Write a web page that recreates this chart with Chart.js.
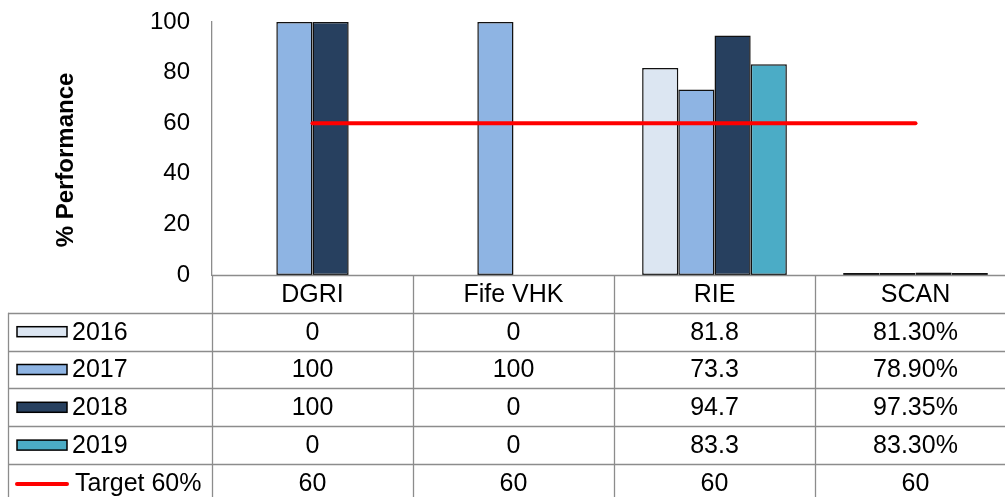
<!DOCTYPE html>
<html>
<head>
<meta charset="utf-8">
<script src="https://cdn.jsdelivr.net/npm/chart.js@4"></script>
<style>
  html, body { margin: 0; padding: 0; background: #fff; overflow: hidden; }
  #wrap { width: 1016px; height: 497px; }
</style>
</head>
<body>
<div id="wrap"><canvas id="perfChart" width="1016" height="497"></canvas></div>
<script>
// Data
const categories = ['DGRI', 'Fife VHK', 'RIE', 'SCAN'];
const years = ['2016', '2017', '2018', '2019'];
// SCAN is stored as fractions in the source sheet (shown as %)
const values2016 = [0, 0, 81.8, 0.813];
const values2017 = [100, 100, 73.3, 0.789];
const values2018 = [100, 0, 94.7, 0.9735];
const values2019 = [0, 0, 83.3, 0.833];
const targetValues = [60, 60, 60, 60];
const targetLabel = 'Target 60%';
const yTicks = [0, 20, 40, 60, 80, 100];

const yearColors = ['#dce6f2', '#8eb4e3', '#27405f', '#4bacc6'];
const TARGET_COLOR = '#ff0000';
const GRID_COLOR = '#8c8c8c';
const FONT = "'Liberation Sans', Arial, sans-serif";

const PLOT_TOP = 22;
const TABLE_TOP = 275;
const ROW_H = 37.8;

function fmt(v, catIdx) {
    if (categories[catIdx] === 'SCAN' && v < 1.5) return (v * 100).toFixed(2) + '%';
    return String(v);
}

// draws the axis title + data table under the plot
const tablePlugin = {
    id: 'dataTable',
    afterDraw(chart) {
        const ctx = chart.ctx;
        const xs = chart.scales.x;
        const area = chart.chartArea;
        const catW = (area.right - area.left) / categories.length;
        const rows = chart.data.datasets;
        const tableLeft = 8;
        const bottom = chart.height;

        ctx.save();
        ctx.strokeStyle = GRID_COLOR;
        ctx.lineWidth = 1.3;

        // baseline
        ctx.beginPath();
        ctx.moveTo(area.left, TABLE_TOP + 0.5);
        ctx.lineTo(chart.width, TABLE_TOP + 0.5);
        ctx.stroke();

        // column lines
        for (let i = 0; i <= categories.length; i++) {
            const x = Math.round(area.left + i * catW) + 0.5;
            ctx.beginPath();
            ctx.moveTo(x, TABLE_TOP);
            ctx.lineTo(x, bottom);
            ctx.stroke();
        }
        // row lines
        for (let r = 1; r <= rows.length; r++) {
            const y = Math.round(TABLE_TOP + r * ROW_H) + 0.5;
            ctx.beginPath();
            ctx.moveTo(tableLeft, y);
            ctx.lineTo(chart.width, y);
            ctx.stroke();
        }
        // legend column left edge
        ctx.beginPath();
        ctx.moveTo(tableLeft + 0.5, TABLE_TOP + ROW_H);
        ctx.lineTo(tableLeft + 0.5, bottom);
        ctx.stroke();

        ctx.fillStyle = '#000';
        ctx.font = '25px ' + FONT;
        ctx.textBaseline = 'middle';
        ctx.textAlign = 'center';

        // header
        categories.forEach((c, i) => {
            ctx.fillText(c, xs.getPixelForValue(i), TABLE_TOP + ROW_H / 2 + 1);
        });

        // rows
        rows.forEach((ds, r) => {
            const cy = TABLE_TOP + (r + 1.5) * ROW_H + 1;
            // legend key
            if (ds.type === 'line') {
                ctx.strokeStyle = TARGET_COLOR;
                ctx.lineWidth = 4;
                ctx.lineCap = 'round';
                ctx.beginPath();
                ctx.moveTo(17, cy);
                ctx.lineTo(67, cy);
                ctx.stroke();
            } else {
                ctx.fillStyle = ds.backgroundColor;
                ctx.fillRect(17, cy - 6, 50, 10);
                ctx.strokeStyle = '#000';
                ctx.lineWidth = 1.5;
                ctx.strokeRect(17, cy - 6, 50, 10);
            }
            ctx.fillStyle = '#000';
            ctx.textAlign = 'left';
            ctx.fillText(ds.label, ds.type === 'line' ? 75 : 72, cy);
            ctx.textAlign = 'center';
            ds.data.forEach((v, i) => {
                ctx.fillText(fmt(v, i), xs.getPixelForValue(i), cy);
            });
        });

        // y axis title
        ctx.save();
        ctx.translate(66, 160);
        ctx.rotate(-Math.PI / 2);
        ctx.font = 'bold 24px ' + FONT;
        ctx.fillText('% Performance', 0, 0);
        ctx.restore();

        ctx.restore();
    }
};

const yearData = [values2016, values2017, values2018, values2019];

new Chart(document.getElementById('perfChart'), {
    data: {
        labels: categories,
        datasets: [
            ...years.map((y, i) => ({
                type: 'bar',
                label: y,
                data: yearData[i],
                backgroundColor: yearColors[i],
                borderColor: '#111',
                borderWidth: 1.5,
                borderSkipped: false,
                categoryPercentage: 0.72,
                barPercentage: 1.0,
                order: 2
            })),
            {
                type: 'line',
                label: targetLabel,
                data: targetValues,
                borderColor: TARGET_COLOR,
                backgroundColor: TARGET_COLOR,
                borderWidth: 4,
                borderCapStyle: 'round',
                pointRadius: 0,
                fill: false,
                order: 1
            }
        ]
    },
    options: {
        responsive: false,
        animation: false,
        layout: { padding: { left: 0, right: 0, top: PLOT_TOP, bottom: 497 - TABLE_TOP } },
        plugins: {
            legend: { display: false },
            tooltip: { enabled: false }
        },
        scales: {
            x: {
                display: false
            },
            y: {
                min: 0,
                max: 100,
                afterBuildTicks: (scale) => { scale.ticks = yTicks.map(v => ({ value: v })); },
                afterFit: (scale) => {
                    scale.width = 212;
                    scale.paddingTop = 0;
                    scale.paddingBottom = 0;
                },
                grid: { display: false, drawTicks: false },
                border: { display: true, color: GRID_COLOR, width: 1.3 },
                ticks: {
                    padding: 22,
                    color: '#000',
                    font: { family: FONT, size: 24 }
                }
            }
        }
    },
    plugins: [tablePlugin]
});
</script>
</body>
</html>
